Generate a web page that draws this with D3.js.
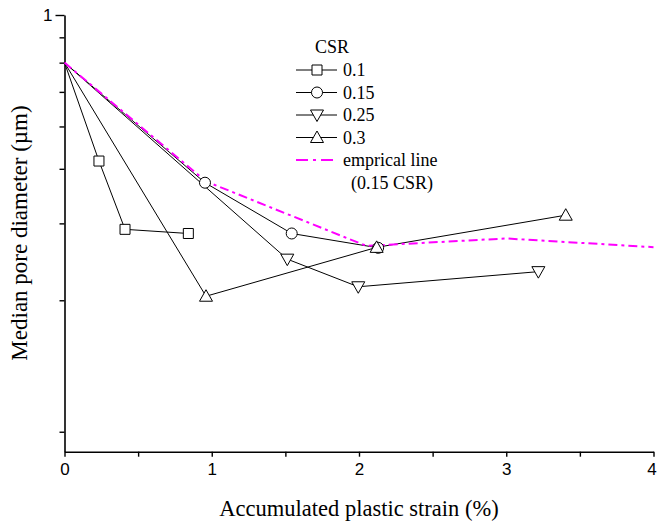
<!DOCTYPE html>
<html>
<head>
<meta charset="utf-8">
<script src="https://cdn.jsdelivr.net/npm/d3@7"></script>
<style>
  html, body { margin: 0; padding: 0; background: #fff; }
  svg { display: block; }
</style>
</head>
<body>
<svg id="chart" width="657" height="523"></svg>
<script>
// Accumulated plastic strain (%) per CSR level
const strain01  = [0, 0.234, 0.411, 0.841];
const pore01    = [0.778, 0.463, 0.323, 0.316];
const strain015 = [0, 0.954, 1.543, 2.13];
const pore015   = [0.778, 0.413, 0.316, 0.293];
const strain025 = [0, 1.513, 1.995, 3.218];
const pore025   = [0.778, 0.276, 0.2386, 0.2584];
const strain03  = [0, 0.961, 2.12, 3.404];
const pore03    = [0.778, 0.227, 0.2937, 0.348];
// empirical fit for CSR 0.15
const strainEmp = [0, 0.96, 2.05, 3.0, 4.0];
const poreEmp   = [0.778, 0.416, 0.296, 0.3078, 0.294];

const csrLabels = ["0.1", "0.15", "0.25", "0.3"];
const xTicks = [0, 0.5, 1, 1.5, 2, 2.5, 3, 3.5, 4];
const xTickLabels = ["0", "", "1", "", "2", "", "3", "", "4"];
const yTicks = [1, 0.8889, 0.7778, 0.6667, 0.5556, 0.4444, 0.3333, 0.2222, 0.1111];
const yTickLabels = ["1", "", "", "", "", "", "", "", ""];

const svg = d3.select("#chart");
const x = d3.scaleLinear().domain([0, 4]).range([64.5, 653.5]);
const y = d3.scaleLog().domain([0.1, 1]).range([451.7, 15]);

const serif = "'Liberation Serif', 'Times New Roman', serif";
const sans = "'Liberation Sans', Arial, sans-serif";

// axes
const xAxis = d3.axisBottom(x).tickValues(xTicks)
  .tickFormat((d, i) => xTickLabels[i]).tickSize(5).tickSizeOuter(0).tickPadding(6);
const gx = svg.append("g").attr("transform", `translate(0,${y.range()[0]})`).call(xAxis);
// keep the last label inside the frame
gx.selectAll(".tick text").filter(d => d === 4).attr("dx", -2);

const yAxis = d3.axisLeft(y).tickValues(yTicks)
  .tickFormat((d, i) => yTickLabels[i]).tickSize(5).tickSizeOuter(0).tickPadding(5);
const gy = svg.append("g").attr("transform", `translate(${x.range()[0]},0)`).call(yAxis);
gy.selectAll(".tick line").attr("x2", (d, i) => yTickLabels[i] ? -9 : -5);
gy.selectAll(".tick text").attr("x", -12);

[gx, gy].forEach(g => {
  g.select(".domain").attr("stroke", "#000").attr("stroke-width", 1.6);
  g.selectAll(".tick line").attr("stroke", "#000").attr("stroke-width", 1.4);
  g.selectAll(".tick text").attr("fill", "#000").style("font-family", sans).style("font-size", "17px");
});

// axis titles
svg.append("text")
  .attr("x", 359).attr("y", 516)
  .attr("text-anchor", "middle")
  .style("font-family", serif).style("font-size", "22.5px")
  .text("Accumulated plastic strain (%)");
svg.append("text")
  .attr("transform", "translate(27,233) rotate(-90)")
  .attr("text-anchor", "middle")
  .style("font-family", serif).style("font-size", "23px")
  .text("Median pore diameter (\u00b5m)");

// marker shapes
function markerPath(kind) {
  switch (kind) {
    case "square": return "M-5,-5H5V5H-5Z";
    case "circle": return "M5.5,0A5.5,5.5 0 1 1 -5.5,0A5.5,5.5 0 1 1 5.5,0Z";
    case "down": return "M-6.5,-5L6.5,-5L0,6.5Z";
    case "up": return "M0,-6.5L6.5,5L-6.5,5Z";
  }
}

const series = [
  { xs: strain01,  ys: pore01,  shape: "square" },
  { xs: strain015, ys: pore015, shape: "circle" },
  { xs: strain025, ys: pore025, shape: "down" },
  { xs: strain03,  ys: pore03,  shape: "up" }
];

const line = d3.line().x(d => x(d[0])).y(d => y(d[1]));

series.forEach(s => {
  const pts = s.xs.map((v, i) => [v, s.ys[i]]);
  svg.append("path").datum(pts)
    .attr("d", line).attr("fill", "none")
    .attr("stroke", "#000").attr("stroke-width", 1);
});

// empirical line
const empPts = strainEmp.map((v, i) => [v, poreEmp[i]]);
svg.append("path").datum(empPts)
  .attr("d", line).attr("fill", "none")
  .attr("stroke", "#ff00ff").attr("stroke-width", 2)
  .attr("stroke-dasharray", "9,4,3,4");

// markers (the shared origin point is not marked)
series.forEach(s => {
  const pts = s.xs.map((v, i) => [v, s.ys[i]]).filter(d => d[0] > 0);
  svg.selectAll(null).data(pts).enter().append("path")
    .attr("d", markerPath(s.shape))
    .attr("transform", d => `translate(${x(d[0])},${y(d[1])})`)
    .attr("fill", "#fff").attr("stroke", "#000").attr("stroke-width", 1);
});

// legend
const lg = svg.append("g");
lg.append("text").attr("x", 332).attr("y", 53).attr("text-anchor", "middle")
  .style("font-family", serif).style("font-size", "18px").text("CSR");
const rowY = [70, 92.5, 115, 137.5];
series.forEach((s, i) => {
  const yy = rowY[i];
  lg.append("line").attr("x1", 296).attr("x2", 337).attr("y1", yy).attr("y2", yy)
    .attr("stroke", "#000").attr("stroke-width", 1);
  lg.append("path").attr("d", markerPath(s.shape))
    .attr("transform", `translate(317,${yy})`)
    .attr("fill", "#fff").attr("stroke", "#000").attr("stroke-width", 1);
  lg.append("text").attr("x", 343).attr("y", yy + 6)
    .style("font-family", serif).style("font-size", "18px").text(csrLabels[i]);
});
lg.append("line").attr("x1", 296).attr("x2", 334).attr("y1", 160).attr("y2", 160)
  .attr("stroke", "#ff00ff").attr("stroke-width", 2).attr("stroke-dasharray", "12,5,3,5");
lg.append("text").attr("x", 343).attr("y", 166)
  .style("font-family", serif).style("font-size", "18px").text("emprical line");
lg.append("text").attr("x", 351).attr("y", 189)
  .style("font-family", serif).style("font-size", "18px").text("(0.15 CSR)");
</script>
</body>
</html>
